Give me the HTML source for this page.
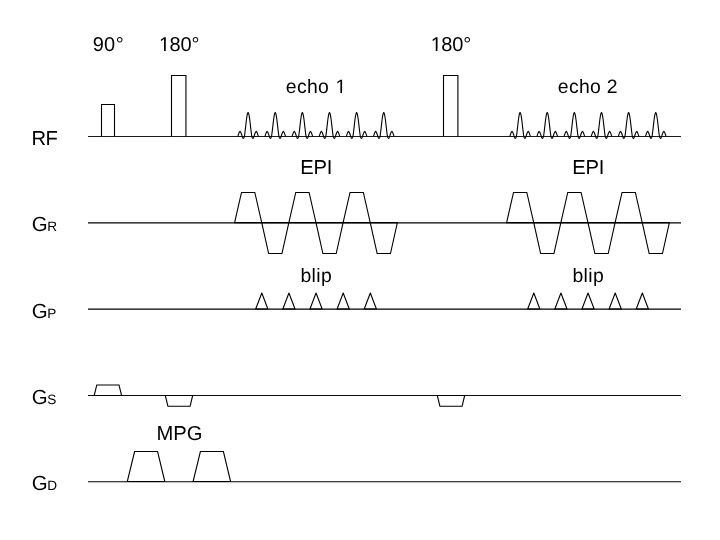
<!DOCTYPE html><html><head><meta charset="utf-8"><style>html,body{margin:0;padding:0;background:#fff;}svg{display:block;will-change:transform;}text{font-family:"Liberation Sans",sans-serif;fill:#000;text-rendering:geometricPrecision;}</style></head><body>
<svg width="720" height="540" viewBox="0 0 720 540">
<rect width="720" height="540" fill="#fff"/>
<g fill="none" stroke="#000" stroke-width="1.1" stroke-linejoin="miter"><line x1="88" y1="136.5" x2="681" y2="136.5" stroke="#1c1c1c" stroke-width="1.1"/><line x1="88" y1="222.93" x2="681" y2="222.93" stroke="#000" stroke-width="1.165"/><line x1="88" y1="309.14" x2="681" y2="309.14" stroke="#000" stroke-width="1.145"/><line x1="88" y1="395.5" x2="681" y2="395.5" stroke="#0c0c0c" stroke-width="1.1"/><line x1="88" y1="481.71" x2="681" y2="481.71" stroke="#000" stroke-width="1.02"/><polyline points="101.5,136.5 101.5,104.5 114.5,104.5 114.5,136.5" /><polyline points="171.5,136.5 171.5,75.5 185.95,75.5 185.95,136.5" /><polyline points="443.5,136.5 443.5,75.5 457.9,75.5 457.9,136.5" /><polyline points="237.8,136.5 237.97,135.91 238.14,135.35 238.31,134.82 238.49,134.31 238.66,133.83 238.83,133.38 239,132.96 239.17,132.57 239.34,132.23 239.52,131.93 239.69,131.67 239.86,131.48 240.03,131.41 240.2,131.54 240.38,131.76 240.55,132.03 240.72,132.35 240.89,132.71 241.06,133.11 241.23,133.54 241.41,134 241.58,134.49 241.75,135.01 241.92,135.56 242.09,136.13 242.26,136.67 242.44,137.13 242.61,137.54 242.78,137.9 242.95,138.17 243.12,138.34 243.29,138.4 243.47,138.35 243.64,138.18 243.81,137.92 243.98,137.57 244.15,137.16 244.32,136.71 244.5,135.87 244.67,134.67 244.84,133.37 245.01,132.01 245.18,130.58 245.35,129.11 245.53,127.61 245.7,126.1 245.87,124.59 246.04,123.11 246.21,121.66 246.38,120.28 246.56,118.96 246.73,117.74 246.9,116.62 247.07,115.62 247.24,114.75 247.41,114.03 247.58,113.45 247.76,113.04 247.93,112.78 248.1,112.7 248.27,112.78 248.44,113.04 248.62,113.45 248.79,114.03 248.96,114.75 249.13,115.62 249.3,116.62 249.47,117.74 249.64,118.96 249.82,120.28 249.99,121.66 250.16,123.11 250.33,124.59 250.5,126.1 250.67,127.61 250.85,129.11 251.02,130.58 251.19,132.01 251.36,133.37 251.53,134.67 251.7,135.87 251.88,136.71 252.05,137.16 252.22,137.57 252.39,137.92 252.56,138.18 252.73,138.35 252.91,138.4 253.08,138.34 253.25,138.17 253.42,137.9 253.59,137.54 253.76,137.13 253.94,136.67 254.11,136.13 254.28,135.56 254.45,135.01 254.62,134.49 254.79,134 254.97,133.54 255.14,133.11 255.31,132.71 255.48,132.35 255.65,132.03 255.82,131.76 256,131.54 256.17,131.41 256.34,131.48 256.51,131.67 256.68,131.93 256.86,132.23 257.03,132.57 257.2,132.96 257.37,133.38 257.54,133.83 257.71,134.31 257.88,134.82 258.06,135.35 258.23,135.91 258.4,136.5" /><polyline points="264.93,136.5 265.1,135.91 265.27,135.35 265.44,134.82 265.62,134.31 265.79,133.83 265.96,133.38 266.13,132.96 266.3,132.57 266.48,132.23 266.65,131.93 266.82,131.67 266.99,131.48 267.16,131.41 267.33,131.54 267.5,131.76 267.68,132.03 267.85,132.35 268.02,132.71 268.19,133.11 268.36,133.54 268.54,134 268.71,134.49 268.88,135.01 269.05,135.56 269.22,136.13 269.39,136.67 269.56,137.13 269.74,137.54 269.91,137.9 270.08,138.17 270.25,138.34 270.42,138.4 270.6,138.35 270.77,138.18 270.94,137.92 271.11,137.57 271.28,137.16 271.45,136.71 271.62,135.87 271.8,134.67 271.97,133.37 272.14,132.01 272.31,130.58 272.48,129.11 272.66,127.61 272.83,126.1 273,124.59 273.17,123.11 273.34,121.66 273.51,120.28 273.69,118.96 273.86,117.74 274.03,116.62 274.2,115.62 274.37,114.75 274.54,114.03 274.72,113.45 274.89,113.04 275.06,112.78 275.23,112.7 275.4,112.78 275.57,113.04 275.75,113.45 275.92,114.03 276.09,114.75 276.26,115.62 276.43,116.62 276.6,117.74 276.78,118.96 276.95,120.28 277.12,121.66 277.29,123.11 277.46,124.59 277.63,126.1 277.81,127.61 277.98,129.11 278.15,130.58 278.32,132.01 278.49,133.37 278.66,134.67 278.84,135.87 279.01,136.71 279.18,137.16 279.35,137.57 279.52,137.92 279.69,138.18 279.87,138.35 280.04,138.4 280.21,138.34 280.38,138.17 280.55,137.9 280.72,137.54 280.9,137.13 281.07,136.67 281.24,136.13 281.41,135.56 281.58,135.01 281.75,134.49 281.93,134 282.1,133.54 282.27,133.11 282.44,132.71 282.61,132.35 282.78,132.03 282.96,131.76 283.13,131.54 283.3,131.41 283.47,131.48 283.64,131.67 283.81,131.93 283.99,132.23 284.16,132.57 284.33,132.96 284.5,133.38 284.67,133.83 284.84,134.31 285.02,134.82 285.19,135.35 285.36,135.91 285.53,136.5" /><polyline points="292.06,136.5 292.23,135.91 292.4,135.35 292.57,134.82 292.75,134.31 292.92,133.83 293.09,133.38 293.26,132.96 293.43,132.57 293.61,132.23 293.78,131.93 293.95,131.67 294.12,131.48 294.29,131.41 294.46,131.54 294.63,131.76 294.81,132.03 294.98,132.35 295.15,132.71 295.32,133.11 295.49,133.54 295.67,134 295.84,134.49 296.01,135.01 296.18,135.56 296.35,136.13 296.52,136.67 296.69,137.13 296.87,137.54 297.04,137.9 297.21,138.17 297.38,138.34 297.55,138.4 297.73,138.35 297.9,138.18 298.07,137.92 298.24,137.57 298.41,137.16 298.58,136.71 298.75,135.87 298.93,134.67 299.1,133.37 299.27,132.01 299.44,130.58 299.61,129.11 299.79,127.61 299.96,126.1 300.13,124.59 300.3,123.11 300.47,121.66 300.64,120.28 300.81,118.96 300.99,117.74 301.16,116.62 301.33,115.62 301.5,114.75 301.67,114.03 301.85,113.45 302.02,113.04 302.19,112.78 302.36,112.7 302.53,112.78 302.7,113.04 302.88,113.45 303.05,114.03 303.22,114.75 303.39,115.62 303.56,116.62 303.73,117.74 303.91,118.96 304.08,120.28 304.25,121.66 304.42,123.11 304.59,124.59 304.76,126.1 304.94,127.61 305.11,129.11 305.28,130.58 305.45,132.01 305.62,133.37 305.79,134.67 305.97,135.87 306.14,136.71 306.31,137.16 306.48,137.57 306.65,137.92 306.82,138.18 307,138.35 307.17,138.4 307.34,138.34 307.51,138.17 307.68,137.9 307.85,137.54 308.03,137.13 308.2,136.67 308.37,136.13 308.54,135.56 308.71,135.01 308.88,134.49 309.06,134 309.23,133.54 309.4,133.11 309.57,132.71 309.74,132.35 309.91,132.03 310.09,131.76 310.26,131.54 310.43,131.41 310.6,131.48 310.77,131.67 310.94,131.93 311.12,132.23 311.29,132.57 311.46,132.96 311.63,133.38 311.8,133.83 311.97,134.31 312.15,134.82 312.32,135.35 312.49,135.91 312.66,136.5" /><polyline points="319.19,136.5 319.36,135.91 319.53,135.35 319.7,134.82 319.88,134.31 320.05,133.83 320.22,133.38 320.39,132.96 320.56,132.57 320.74,132.23 320.91,131.93 321.08,131.67 321.25,131.48 321.42,131.41 321.59,131.54 321.76,131.76 321.94,132.03 322.11,132.35 322.28,132.71 322.45,133.11 322.62,133.54 322.8,134 322.97,134.49 323.14,135.01 323.31,135.56 323.48,136.13 323.65,136.67 323.82,137.13 324,137.54 324.17,137.9 324.34,138.17 324.51,138.34 324.68,138.4 324.86,138.35 325.03,138.18 325.2,137.92 325.37,137.57 325.54,137.16 325.71,136.71 325.88,135.87 326.06,134.67 326.23,133.37 326.4,132.01 326.57,130.58 326.74,129.11 326.92,127.61 327.09,126.1 327.26,124.59 327.43,123.11 327.6,121.66 327.77,120.28 327.94,118.96 328.12,117.74 328.29,116.62 328.46,115.62 328.63,114.75 328.8,114.03 328.98,113.45 329.15,113.04 329.32,112.78 329.49,112.7 329.66,112.78 329.83,113.04 330,113.45 330.18,114.03 330.35,114.75 330.52,115.62 330.69,116.62 330.86,117.74 331.04,118.96 331.21,120.28 331.38,121.66 331.55,123.11 331.72,124.59 331.89,126.1 332.06,127.61 332.24,129.11 332.41,130.58 332.58,132.01 332.75,133.37 332.92,134.67 333.1,135.87 333.27,136.71 333.44,137.16 333.61,137.57 333.78,137.92 333.95,138.18 334.12,138.35 334.3,138.4 334.47,138.34 334.64,138.17 334.81,137.9 334.98,137.54 335.16,137.13 335.33,136.67 335.5,136.13 335.67,135.56 335.84,135.01 336.01,134.49 336.19,134 336.36,133.54 336.53,133.11 336.7,132.71 336.87,132.35 337.04,132.03 337.22,131.76 337.39,131.54 337.56,131.41 337.73,131.48 337.9,131.67 338.07,131.93 338.25,132.23 338.42,132.57 338.59,132.96 338.76,133.38 338.93,133.83 339.1,134.31 339.28,134.82 339.45,135.35 339.62,135.91 339.79,136.5" /><polyline points="346.32,136.5 346.49,135.91 346.66,135.35 346.83,134.82 347.01,134.31 347.18,133.83 347.35,133.38 347.52,132.96 347.69,132.57 347.87,132.23 348.04,131.93 348.21,131.67 348.38,131.48 348.55,131.41 348.72,131.54 348.89,131.76 349.07,132.03 349.24,132.35 349.41,132.71 349.58,133.11 349.75,133.54 349.93,134 350.1,134.49 350.27,135.01 350.44,135.56 350.61,136.13 350.78,136.67 350.95,137.13 351.13,137.54 351.3,137.9 351.47,138.17 351.64,138.34 351.81,138.4 351.99,138.35 352.16,138.18 352.33,137.92 352.5,137.57 352.67,137.16 352.84,136.71 353.01,135.87 353.19,134.67 353.36,133.37 353.53,132.01 353.7,130.58 353.87,129.11 354.05,127.61 354.22,126.1 354.39,124.59 354.56,123.11 354.73,121.66 354.9,120.28 355.07,118.96 355.25,117.74 355.42,116.62 355.59,115.62 355.76,114.75 355.93,114.03 356.11,113.45 356.28,113.04 356.45,112.78 356.62,112.7 356.79,112.78 356.96,113.04 357.13,113.45 357.31,114.03 357.48,114.75 357.65,115.62 357.82,116.62 357.99,117.74 358.17,118.96 358.34,120.28 358.51,121.66 358.68,123.11 358.85,124.59 359.02,126.1 359.19,127.61 359.37,129.11 359.54,130.58 359.71,132.01 359.88,133.37 360.05,134.67 360.23,135.87 360.4,136.71 360.57,137.16 360.74,137.57 360.91,137.92 361.08,138.18 361.25,138.35 361.43,138.4 361.6,138.34 361.77,138.17 361.94,137.9 362.11,137.54 362.29,137.13 362.46,136.67 362.63,136.13 362.8,135.56 362.97,135.01 363.14,134.49 363.31,134 363.49,133.54 363.66,133.11 363.83,132.71 364,132.35 364.17,132.03 364.35,131.76 364.52,131.54 364.69,131.41 364.86,131.48 365.03,131.67 365.2,131.93 365.38,132.23 365.55,132.57 365.72,132.96 365.89,133.38 366.06,133.83 366.23,134.31 366.41,134.82 366.58,135.35 366.75,135.91 366.92,136.5" /><polyline points="373.45,136.5 373.62,135.91 373.79,135.35 373.96,134.82 374.14,134.31 374.31,133.83 374.48,133.38 374.65,132.96 374.82,132.57 375,132.23 375.17,131.93 375.34,131.67 375.51,131.48 375.68,131.41 375.85,131.54 376.02,131.76 376.2,132.03 376.37,132.35 376.54,132.71 376.71,133.11 376.88,133.54 377.06,134 377.23,134.49 377.4,135.01 377.57,135.56 377.74,136.13 377.91,136.67 378.08,137.13 378.26,137.54 378.43,137.9 378.6,138.17 378.77,138.34 378.94,138.4 379.12,138.35 379.29,138.18 379.46,137.92 379.63,137.57 379.8,137.16 379.97,136.71 380.14,135.87 380.32,134.67 380.49,133.37 380.66,132.01 380.83,130.58 381,129.11 381.18,127.61 381.35,126.1 381.52,124.59 381.69,123.11 381.86,121.66 382.03,120.28 382.2,118.96 382.38,117.74 382.55,116.62 382.72,115.62 382.89,114.75 383.06,114.03 383.24,113.45 383.41,113.04 383.58,112.78 383.75,112.7 383.92,112.78 384.09,113.04 384.26,113.45 384.44,114.03 384.61,114.75 384.78,115.62 384.95,116.62 385.12,117.74 385.3,118.96 385.47,120.28 385.64,121.66 385.81,123.11 385.98,124.59 386.15,126.1 386.32,127.61 386.5,129.11 386.67,130.58 386.84,132.01 387.01,133.37 387.18,134.67 387.36,135.87 387.53,136.71 387.7,137.16 387.87,137.57 388.04,137.92 388.21,138.18 388.38,138.35 388.56,138.4 388.73,138.34 388.9,138.17 389.07,137.9 389.24,137.54 389.42,137.13 389.59,136.67 389.76,136.13 389.93,135.56 390.1,135.01 390.27,134.49 390.44,134 390.62,133.54 390.79,133.11 390.96,132.71 391.13,132.35 391.3,132.03 391.48,131.76 391.65,131.54 391.82,131.41 391.99,131.48 392.16,131.67 392.33,131.93 392.5,132.23 392.68,132.57 392.85,132.96 393.02,133.38 393.19,133.83 393.36,134.31 393.54,134.82 393.71,135.35 393.88,135.91 394.05,136.5" /><polyline points="509.8,136.5 509.97,135.91 510.14,135.35 510.31,134.82 510.49,134.31 510.66,133.83 510.83,133.38 511,132.96 511.17,132.57 511.35,132.23 511.52,131.93 511.69,131.67 511.86,131.48 512.03,131.41 512.2,131.54 512.38,131.76 512.55,132.03 512.72,132.35 512.89,132.71 513.06,133.11 513.23,133.54 513.4,134 513.58,134.49 513.75,135.01 513.92,135.56 514.09,136.13 514.26,136.67 514.44,137.13 514.61,137.54 514.78,137.9 514.95,138.17 515.12,138.34 515.29,138.4 515.47,138.35 515.64,138.18 515.81,137.92 515.98,137.57 516.15,137.16 516.32,136.71 516.5,135.87 516.67,134.67 516.84,133.37 517.01,132.01 517.18,130.58 517.35,129.11 517.52,127.61 517.7,126.1 517.87,124.59 518.04,123.11 518.21,121.66 518.38,120.28 518.56,118.96 518.73,117.74 518.9,116.62 519.07,115.62 519.24,114.75 519.41,114.03 519.59,113.45 519.76,113.04 519.93,112.78 520.1,112.7 520.27,112.78 520.44,113.04 520.62,113.45 520.79,114.03 520.96,114.75 521.13,115.62 521.3,116.62 521.47,117.74 521.64,118.96 521.82,120.28 521.99,121.66 522.16,123.11 522.33,124.59 522.5,126.1 522.68,127.61 522.85,129.11 523.02,130.58 523.19,132.01 523.36,133.37 523.53,134.67 523.71,135.87 523.88,136.71 524.05,137.16 524.22,137.57 524.39,137.92 524.56,138.18 524.74,138.35 524.91,138.4 525.08,138.34 525.25,138.17 525.42,137.9 525.59,137.54 525.76,137.13 525.94,136.67 526.11,136.13 526.28,135.56 526.45,135.01 526.62,134.49 526.8,134 526.97,133.54 527.14,133.11 527.31,132.71 527.48,132.35 527.65,132.03 527.83,131.76 528,131.54 528.17,131.41 528.34,131.48 528.51,131.67 528.68,131.93 528.86,132.23 529.03,132.57 529.2,132.96 529.37,133.38 529.54,133.83 529.71,134.31 529.88,134.82 530.06,135.35 530.23,135.91 530.4,136.5" /><polyline points="536.93,136.5 537.1,135.91 537.27,135.35 537.45,134.82 537.62,134.31 537.79,133.83 537.96,133.38 538.13,132.96 538.3,132.57 538.48,132.23 538.65,131.93 538.82,131.67 538.99,131.48 539.16,131.41 539.33,131.54 539.5,131.76 539.68,132.03 539.85,132.35 540.02,132.71 540.19,133.11 540.36,133.54 540.53,134 540.71,134.49 540.88,135.01 541.05,135.56 541.22,136.13 541.39,136.67 541.57,137.13 541.74,137.54 541.91,137.9 542.08,138.17 542.25,138.34 542.42,138.4 542.6,138.35 542.77,138.18 542.94,137.92 543.11,137.57 543.28,137.16 543.45,136.71 543.62,135.87 543.8,134.67 543.97,133.37 544.14,132.01 544.31,130.58 544.48,129.11 544.65,127.61 544.83,126.1 545,124.59 545.17,123.11 545.34,121.66 545.51,120.28 545.69,118.96 545.86,117.74 546.03,116.62 546.2,115.62 546.37,114.75 546.54,114.03 546.72,113.45 546.89,113.04 547.06,112.78 547.23,112.7 547.4,112.78 547.57,113.04 547.75,113.45 547.92,114.03 548.09,114.75 548.26,115.62 548.43,116.62 548.6,117.74 548.77,118.96 548.95,120.28 549.12,121.66 549.29,123.11 549.46,124.59 549.63,126.1 549.81,127.61 549.98,129.11 550.15,130.58 550.32,132.01 550.49,133.37 550.66,134.67 550.84,135.87 551.01,136.71 551.18,137.16 551.35,137.57 551.52,137.92 551.69,138.18 551.87,138.35 552.04,138.4 552.21,138.34 552.38,138.17 552.55,137.9 552.72,137.54 552.89,137.13 553.07,136.67 553.24,136.13 553.41,135.56 553.58,135.01 553.75,134.49 553.93,134 554.1,133.54 554.27,133.11 554.44,132.71 554.61,132.35 554.78,132.03 554.96,131.76 555.13,131.54 555.3,131.41 555.47,131.48 555.64,131.67 555.81,131.93 555.99,132.23 556.16,132.57 556.33,132.96 556.5,133.38 556.67,133.83 556.84,134.31 557.01,134.82 557.19,135.35 557.36,135.91 557.53,136.5" /><polyline points="564.06,136.5 564.23,135.91 564.4,135.35 564.58,134.82 564.75,134.31 564.92,133.83 565.09,133.38 565.26,132.96 565.43,132.57 565.61,132.23 565.78,131.93 565.95,131.67 566.12,131.48 566.29,131.41 566.46,131.54 566.63,131.76 566.81,132.03 566.98,132.35 567.15,132.71 567.32,133.11 567.49,133.54 567.66,134 567.84,134.49 568.01,135.01 568.18,135.56 568.35,136.13 568.52,136.67 568.7,137.13 568.87,137.54 569.04,137.9 569.21,138.17 569.38,138.34 569.55,138.4 569.73,138.35 569.9,138.18 570.07,137.92 570.24,137.57 570.41,137.16 570.58,136.71 570.75,135.87 570.93,134.67 571.1,133.37 571.27,132.01 571.44,130.58 571.61,129.11 571.78,127.61 571.96,126.1 572.13,124.59 572.3,123.11 572.47,121.66 572.64,120.28 572.82,118.96 572.99,117.74 573.16,116.62 573.33,115.62 573.5,114.75 573.67,114.03 573.85,113.45 574.02,113.04 574.19,112.78 574.36,112.7 574.53,112.78 574.7,113.04 574.88,113.45 575.05,114.03 575.22,114.75 575.39,115.62 575.56,116.62 575.73,117.74 575.9,118.96 576.08,120.28 576.25,121.66 576.42,123.11 576.59,124.59 576.76,126.1 576.94,127.61 577.11,129.11 577.28,130.58 577.45,132.01 577.62,133.37 577.79,134.67 577.97,135.87 578.14,136.71 578.31,137.16 578.48,137.57 578.65,137.92 578.82,138.18 579,138.35 579.17,138.4 579.34,138.34 579.51,138.17 579.68,137.9 579.85,137.54 580.02,137.13 580.2,136.67 580.37,136.13 580.54,135.56 580.71,135.01 580.88,134.49 581.06,134 581.23,133.54 581.4,133.11 581.57,132.71 581.74,132.35 581.91,132.03 582.09,131.76 582.26,131.54 582.43,131.41 582.6,131.48 582.77,131.67 582.94,131.93 583.12,132.23 583.29,132.57 583.46,132.96 583.63,133.38 583.8,133.83 583.97,134.31 584.14,134.82 584.32,135.35 584.49,135.91 584.66,136.5" /><polyline points="591.19,136.5 591.36,135.91 591.53,135.35 591.71,134.82 591.88,134.31 592.05,133.83 592.22,133.38 592.39,132.96 592.56,132.57 592.74,132.23 592.91,131.93 593.08,131.67 593.25,131.48 593.42,131.41 593.59,131.54 593.76,131.76 593.94,132.03 594.11,132.35 594.28,132.71 594.45,133.11 594.62,133.54 594.79,134 594.97,134.49 595.14,135.01 595.31,135.56 595.48,136.13 595.65,136.67 595.83,137.13 596,137.54 596.17,137.9 596.34,138.17 596.51,138.34 596.68,138.4 596.86,138.35 597.03,138.18 597.2,137.92 597.37,137.57 597.54,137.16 597.71,136.71 597.88,135.87 598.06,134.67 598.23,133.37 598.4,132.01 598.57,130.58 598.74,129.11 598.91,127.61 599.09,126.1 599.26,124.59 599.43,123.11 599.6,121.66 599.77,120.28 599.95,118.96 600.12,117.74 600.29,116.62 600.46,115.62 600.63,114.75 600.8,114.03 600.98,113.45 601.15,113.04 601.32,112.78 601.49,112.7 601.66,112.78 601.83,113.04 602,113.45 602.18,114.03 602.35,114.75 602.52,115.62 602.69,116.62 602.86,117.74 603.03,118.96 603.21,120.28 603.38,121.66 603.55,123.11 603.72,124.59 603.89,126.1 604.07,127.61 604.24,129.11 604.41,130.58 604.58,132.01 604.75,133.37 604.92,134.67 605.1,135.87 605.27,136.71 605.44,137.16 605.61,137.57 605.78,137.92 605.95,138.18 606.12,138.35 606.3,138.4 606.47,138.34 606.64,138.17 606.81,137.9 606.98,137.54 607.15,137.13 607.33,136.67 607.5,136.13 607.67,135.56 607.84,135.01 608.01,134.49 608.19,134 608.36,133.54 608.53,133.11 608.7,132.71 608.87,132.35 609.04,132.03 609.22,131.76 609.39,131.54 609.56,131.41 609.73,131.48 609.9,131.67 610.07,131.93 610.25,132.23 610.42,132.57 610.59,132.96 610.76,133.38 610.93,133.83 611.1,134.31 611.27,134.82 611.45,135.35 611.62,135.91 611.79,136.5" /><polyline points="618.32,136.5 618.49,135.91 618.66,135.35 618.84,134.82 619.01,134.31 619.18,133.83 619.35,133.38 619.52,132.96 619.69,132.57 619.87,132.23 620.04,131.93 620.21,131.67 620.38,131.48 620.55,131.41 620.72,131.54 620.89,131.76 621.07,132.03 621.24,132.35 621.41,132.71 621.58,133.11 621.75,133.54 621.92,134 622.1,134.49 622.27,135.01 622.44,135.56 622.61,136.13 622.78,136.67 622.96,137.13 623.13,137.54 623.3,137.9 623.47,138.17 623.64,138.34 623.81,138.4 623.99,138.35 624.16,138.18 624.33,137.92 624.5,137.57 624.67,137.16 624.84,136.71 625.01,135.87 625.19,134.67 625.36,133.37 625.53,132.01 625.7,130.58 625.87,129.11 626.04,127.61 626.22,126.1 626.39,124.59 626.56,123.11 626.73,121.66 626.9,120.28 627.08,118.96 627.25,117.74 627.42,116.62 627.59,115.62 627.76,114.75 627.93,114.03 628.11,113.45 628.28,113.04 628.45,112.78 628.62,112.7 628.79,112.78 628.96,113.04 629.13,113.45 629.31,114.03 629.48,114.75 629.65,115.62 629.82,116.62 629.99,117.74 630.16,118.96 630.34,120.28 630.51,121.66 630.68,123.11 630.85,124.59 631.02,126.1 631.2,127.61 631.37,129.11 631.54,130.58 631.71,132.01 631.88,133.37 632.05,134.67 632.23,135.87 632.4,136.71 632.57,137.16 632.74,137.57 632.91,137.92 633.08,138.18 633.25,138.35 633.43,138.4 633.6,138.34 633.77,138.17 633.94,137.9 634.11,137.54 634.28,137.13 634.46,136.67 634.63,136.13 634.8,135.56 634.97,135.01 635.14,134.49 635.32,134 635.49,133.54 635.66,133.11 635.83,132.71 636,132.35 636.17,132.03 636.35,131.76 636.52,131.54 636.69,131.41 636.86,131.48 637.03,131.67 637.2,131.93 637.38,132.23 637.55,132.57 637.72,132.96 637.89,133.38 638.06,133.83 638.23,134.31 638.4,134.82 638.58,135.35 638.75,135.91 638.92,136.5" /><polyline points="645.45,136.5 645.62,135.91 645.79,135.35 645.97,134.82 646.14,134.31 646.31,133.83 646.48,133.38 646.65,132.96 646.82,132.57 647,132.23 647.17,131.93 647.34,131.67 647.51,131.48 647.68,131.41 647.85,131.54 648.02,131.76 648.2,132.03 648.37,132.35 648.54,132.71 648.71,133.11 648.88,133.54 649.05,134 649.23,134.49 649.4,135.01 649.57,135.56 649.74,136.13 649.91,136.67 650.09,137.13 650.26,137.54 650.43,137.9 650.6,138.17 650.77,138.34 650.94,138.4 651.12,138.35 651.29,138.18 651.46,137.92 651.63,137.57 651.8,137.16 651.97,136.71 652.14,135.87 652.32,134.67 652.49,133.37 652.66,132.01 652.83,130.58 653,129.11 653.17,127.61 653.35,126.1 653.52,124.59 653.69,123.11 653.86,121.66 654.03,120.28 654.21,118.96 654.38,117.74 654.55,116.62 654.72,115.62 654.89,114.75 655.06,114.03 655.24,113.45 655.41,113.04 655.58,112.78 655.75,112.7 655.92,112.78 656.09,113.04 656.26,113.45 656.44,114.03 656.61,114.75 656.78,115.62 656.95,116.62 657.12,117.74 657.29,118.96 657.47,120.28 657.64,121.66 657.81,123.11 657.98,124.59 658.15,126.1 658.33,127.61 658.5,129.11 658.67,130.58 658.84,132.01 659.01,133.37 659.18,134.67 659.36,135.87 659.53,136.71 659.7,137.16 659.87,137.57 660.04,137.92 660.21,138.18 660.38,138.35 660.56,138.4 660.73,138.34 660.9,138.17 661.07,137.9 661.24,137.54 661.41,137.13 661.59,136.67 661.76,136.13 661.93,135.56 662.1,135.01 662.27,134.49 662.45,134 662.62,133.54 662.79,133.11 662.96,132.71 663.13,132.35 663.3,132.03 663.48,131.76 663.65,131.54 663.82,131.41 663.99,131.48 664.16,131.67 664.33,131.93 664.5,132.23 664.68,132.57 664.85,132.96 665.02,133.38 665.19,133.83 665.36,134.31 665.53,134.82 665.71,135.35 665.88,135.91 666.05,136.5" /><polygon points="234.6,222.6 241.5,192.5 254.83,192.5 261.73,222.6" /><polygon points="261.73,222.6 268.63,253.5 281.96,253.5 288.86,222.6" /><polygon points="288.86,222.6 295.76,192.5 309.09,192.5 315.99,222.6" /><polygon points="315.99,222.6 322.89,253.5 336.22,253.5 343.12,222.6" /><polygon points="343.12,222.6 350.02,192.5 363.35,192.5 370.25,222.6" /><polygon points="370.25,222.6 377.15,253.5 390.48,253.5 397.38,222.6" /><polygon points="506.6,222.6 513.5,192.5 526.83,192.5 533.73,222.6" /><polygon points="533.73,222.6 540.63,253.5 553.96,253.5 560.86,222.6" /><polygon points="560.86,222.6 567.76,192.5 581.09,192.5 587.99,222.6" /><polygon points="587.99,222.6 594.89,253.5 608.22,253.5 615.12,222.6" /><polygon points="615.12,222.6 622.02,192.5 635.35,192.5 642.25,222.6" /><polygon points="642.25,222.6 649.15,253.5 662.48,253.5 669.38,222.6" /><polygon points="255.7,309 261.8,293 267.9,309" stroke-linejoin="round"/><polygon points="282.83,309 288.93,293 295.03,309" stroke-linejoin="round"/><polygon points="309.96,309 316.06,293 322.16,309" stroke-linejoin="round"/><polygon points="337.09,309 343.19,293 349.29,309" stroke-linejoin="round"/><polygon points="364.22,309 370.32,293 376.42,309" stroke-linejoin="round"/><polygon points="527.7,309 533.8,293 539.9,309" stroke-linejoin="round"/><polygon points="554.83,309 560.93,293 567.03,309" stroke-linejoin="round"/><polygon points="581.96,309 588.06,293 594.16,309" stroke-linejoin="round"/><polygon points="609.09,309 615.19,293 621.29,309" stroke-linejoin="round"/><polygon points="636.22,309 642.32,293 648.42,309" stroke-linejoin="round"/><polygon points="94.2,395.5 96.8,384.95 119,384.95 121.6,395.5" /><polygon points="165.3,395.5 167.9,406.2 190.1,406.2 192.7,395.5" /><polygon points="437.3,395.5 439.9,406.2 462.1,406.2 464.7,395.5" /><polygon points="127.3,481.5 134.6,451.5 157.6,451.5 164.8,481.5" /><polygon points="193.1,481.5 200.4,451.5 223.4,451.5 230.6,481.5" /></g>
<text x="92.85 103.95 115.8" y="50.8" font-size="20.0">90°</text><text x="158.94 169.44 180.59 191.61" y="50.8" font-size="20.0">180°</text><text x="430.64 441.14 452.29 463.31" y="50.8" font-size="20.0">180°</text><text x="285.8 296.89 306.89 317.98 329.07 335.41" y="92.7" font-size="19.4">echo 1</text><text x="557.8 568.89 578.89 589.98 601.07 606.76" y="92.7" font-size="19.4">echo 2</text><text x="300.3 313.47 326.65" y="173.5" font-size="20.2">EPI</text><text x="572.3 585.47 598.65" y="173.5" font-size="20.2">EPI</text><text x="300.4 311.59 316.3 321.01" y="281.5" font-size="19.4">blip</text><text x="572.4 583.59 588.3 593.01" y="281.5" font-size="19.4">blip</text><text x="156.6 173.33 186.7" y="439.8" font-size="20.2">MPG</text><text x="31.4 45.39" y="144.6" font-size="20.2">RF</text><text x="31.8" y="231" font-size="20.4">G</text><text x="47.2" y="231" font-size="13.6">R</text><text x="31.8" y="318" font-size="20.4">G</text><text x="47.2" y="318" font-size="13.6">P</text><text x="31.8" y="404" font-size="20.4">G</text><text x="47.2" y="404" font-size="13.6">S</text><text x="31.8" y="490" font-size="20.4">G</text><text x="47.2" y="490" font-size="13.6">D</text>
<rect x="159.82" y="48.96" width="4.15" height="3.24" fill="#fff"/><rect x="165.73" y="48.96" width="4.04" height="3.24" fill="#fff"/><rect x="431.52" y="48.96" width="4.15" height="3.24" fill="#fff"/><rect x="437.43" y="48.96" width="4.04" height="3.24" fill="#fff"/><rect x="336.27" y="91" width="4.03" height="3.2" fill="#fff"/><rect x="342.01" y="91" width="3.92" height="3.2" fill="#fff"/>
</svg></body></html>
